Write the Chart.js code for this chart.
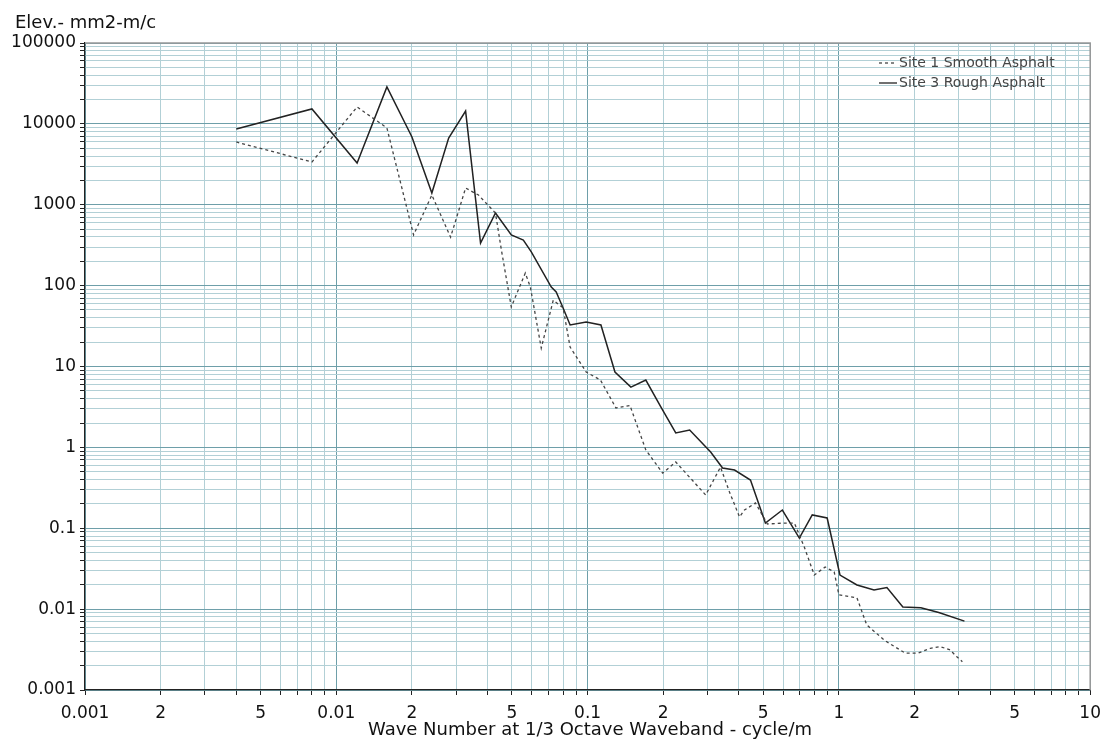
<!DOCTYPE html>
<html>
<head>
<meta charset="utf-8">
<script src="https://cdn.jsdelivr.net/npm/chart.js@4"></script>
<style>
  html, body { margin: 0; padding: 0; background: #fff; }
  #wrap { width: 1109px; height: 740px; }
</style>
</head>
<body>
<div id="wrap"><canvas id="psd_chart" width="1109" height="740"></canvas></div>
<script>
'use strict';

// Site 1 Smooth Asphalt (dotted)
const smooth_x = [0.004, 0.008, 0.0121, 0.0159, 0.0203, 0.024, 0.0285, 0.0327, 0.0368, 0.043,
    0.0454, 0.0497, 0.0565, 0.0592, 0.0654, 0.073, 0.0799, 0.0852, 0.0987, 0.1125,
    0.1297, 0.1474, 0.1705, 0.199, 0.2243, 0.295, 0.338, 0.367, 0.4024, 0.421,
    0.4656, 0.5194, 0.612, 0.665, 0.7284, 0.798, 0.882, 0.958, 1.0, 1.18,
    1.29, 1.52, 1.836, 2.07, 2.31, 2.53, 2.77, 2.94, 3.1];
const smooth_y = [5970, 3380, 16200, 8900, 423, 1318, 398, 1611, 1318, 790,
    275, 54.5, 143, 96, 16.9, 66, 53, 17.4, 8.55, 6.8,
    3.07, 3.3, 0.93, 0.48, 0.66, 0.258, 0.57, 0.28, 0.138, 0.168,
    0.205, 0.113, 0.116, 0.116, 0.0586, 0.0264, 0.0332, 0.0288, 0.015, 0.0138,
    0.0064, 0.0041, 0.00286, 0.00286, 0.00328, 0.00344, 0.00313, 0.00259, 0.00224];

// Site 3 Rough Asphalt (solid)
const rough_x = [0.004, 0.008, 0.0121, 0.0159, 0.02, 0.024, 0.028, 0.0327, 0.0375, 0.043,
    0.0497, 0.0555, 0.0597, 0.0717, 0.075, 0.0799, 0.0852, 0.0987, 0.113, 0.1285,
    0.1487, 0.1705, 0.1956, 0.2243, 0.2548, 0.3088, 0.3444, 0.3844, 0.4448, 0.51,
    0.5957, 0.696, 0.7834, 0.898, 1.01, 1.18, 1.38, 1.553, 1.797, 2.12,
    2.497, 3.16];
const rough_y = [8650, 15300, 3280, 28600, 6890, 1397, 6690, 14400, 336, 790,
    423, 366, 261, 96, 83.4, 53, 32.6, 35.5, 32.6, 8.55,
    5.57, 6.8, 3.16, 1.51, 1.64, 0.877, 0.556, 0.525, 0.395, 0.116,
    0.168, 0.0757, 0.146, 0.134, 0.0264, 0.0199, 0.0172, 0.0185, 0.0106, 0.0104,
    0.0091, 0.0071];

const series_names = ['Site 1 Smooth Asphalt', 'Site 3 Rough Asphalt'];
const x_title = 'Wave Number at 1/3 Octave Waveband - cycle/m';
const y_title = 'Elev.- mm2-m/c';
const x_label_mantissas = [1, 2, 5];   // x ticks that carry a label
const y_label_mantissas = [1];

const FONT = 'DejaVu Sans';
const grid_major = '#6e9fa9';
const grid_minor = '#b2d0d6';

// every 1..9 x 10^e between 10^lo and 10^hi
const log_ticks = (lo, hi) => {
    const out = [];
    for (let e = lo; e < hi; e++) {
        for (let m = 1; m <= 9; m++) {
            out.push({value: Number((m * Math.pow(10, e)).toPrecision(3))});
        }
    }
    out.push({value: Math.pow(10, hi)});
    return out;
};

const mantissa = (v) => Math.round(v / Math.pow(10, Math.floor(Math.log10(v) + 1e-9)));

const tick_label = (allowed) => (value) => {
    const m = mantissa(value);
    if (!allowed.includes(m)) return '';
    return m === 1 ? String(value) : String(m);
};

const grid_color = (ctx) => (ctx.tick && mantissa(ctx.tick.value) === 1) ? grid_major : grid_minor;

const to_points = (xs, ys) => xs.map((x, i) => ({x: x, y: ys[i]}));

const frame_and_text = {
    id: 'frame_and_text',
    afterDraw(chart) {
        const ctx = chart.ctx;
        const a = chart.chartArea;
        ctx.save();

        // top and right frame
        ctx.strokeStyle = '#999999';
        ctx.lineWidth = 1.5;
        ctx.setLineDash([]);
        ctx.beginPath();
        ctx.moveTo(a.left, a.top);
        ctx.lineTo(a.right, a.top);
        ctx.lineTo(a.right, a.bottom);
        ctx.stroke();

        // titles
        ctx.fillStyle = '#111';
        ctx.font = '18px "' + FONT + '"';
        ctx.textBaseline = 'alphabetic';
        ctx.textAlign = 'left';
        ctx.fillText(y_title, 15, 28);
        ctx.textAlign = 'center';
        ctx.fillText(x_title, 590, 735);

        // legend inside plot, top right
        ctx.font = '14px "' + FONT + '"';
        ctx.textAlign = 'left';
        ctx.textBaseline = 'middle';
        chart.data.datasets.forEach((ds, i) => {
            const y = 63 + i * 20;
            ctx.strokeStyle = ds.borderColor;
            ctx.lineWidth = 1.3;
            ctx.setLineDash(ds.borderDash || []);
            ctx.beginPath();
            ctx.moveTo(879, y);
            ctx.lineTo(897, y);
            ctx.stroke();
            ctx.fillStyle = '#454545';
            ctx.fillText(ds.label, 899, y);
        });
        ctx.restore();
    }
};

const psd_chart = document.getElementById('psd_chart');

new Chart(psd_chart, {
    type: 'line',
    data: {
        datasets: [{
            label: series_names[0],
            data: to_points(smooth_x, smooth_y),
            borderColor: '#444444',
            borderWidth: 1.3,
            borderDash: [3, 3],
            pointRadius: 0,
            tension: 0,
        }, {
            label: series_names[1],
            data: to_points(rough_x, rough_y),
            borderColor: '#222222',
            borderWidth: 1.5,
            pointRadius: 0,
            tension: 0,
        }],
    },
    options: {
        responsive: false,
        animation: false,
        layout: {padding: {top: 43, right: 15, left: 0, bottom: 0}},
        plugins: {legend: {display: false}, tooltip: {enabled: false}},
        scales: {
            x: {
                type: 'logarithmic',
                min: 0.001,
                max: 10,
                afterBuildTicks: (s) => { s.ticks = log_ticks(-3, 1); },
                afterFit: (s) => { s.height = 50; },
                grid: {color: grid_color, lineWidth: 1, tickLength: 5, tickColor: '#222'},
                border: {color: '#222', width: 1.2},
                ticks: {
                    autoSkip: false, maxRotation: 0, padding: 8,
                    color: '#111', font: {family: FONT, size: 17},
                    callback: tick_label(x_label_mantissas),
                },
            },
            y: {
                type: 'logarithmic',
                min: 0.001,
                max: 100000,
                afterBuildTicks: (s) => { s.ticks = log_ticks(-3, 5); },
                afterFit: (s) => { s.width = 85; },
                grid: {color: grid_color, lineWidth: 1, tickLength: 5, tickColor: '#222'},
                border: {color: '#222', width: 1.2},
                ticks: {
                    autoSkip: false, padding: 4,
                    color: '#111', font: {family: FONT, size: 17},
                    callback: tick_label(y_label_mantissas),
                },
            },
        },
    },
    plugins: [frame_and_text],
});
</script>
</body>
</html>
